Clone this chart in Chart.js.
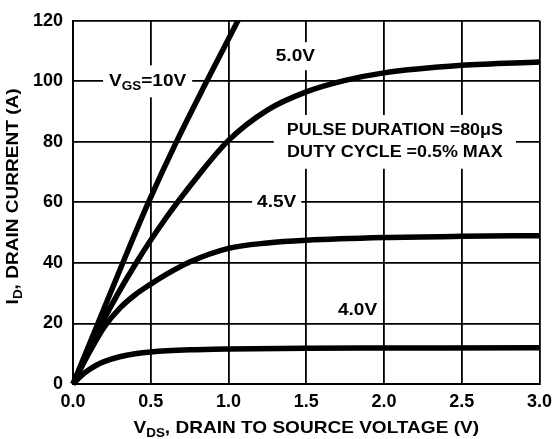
<!DOCTYPE html>
<html>
<head>
<meta charset="utf-8">
<script src="https://cdn.jsdelivr.net/npm/chart.js@4.4.1/dist/chart.umd.min.js"></script>
<style>
  html, body { margin: 0; padding: 0; background: #fff; }
  canvas { display: block; }
</style>
</head>
<body>
<canvas id="c" width="559" height="439"></canvas>
<script>
// V_DS (V) and I_D (A), one pair of arrays per V_GS
const vds10 = [0, 0.16, 0.32, 0.485, 0.665, 0.86, 1.06, 1.1];
const id10  = [0, 20, 40, 60, 80, 100, 120, 124];

const vds50 = [0, 0.2, 0.4, 0.6, 0.8, 1.0, 1.25, 1.5, 1.75, 2.0, 2.5, 3.0];
const id50  = [0, 21.5, 39.5, 55, 68.5, 80.5, 90.5, 96.5, 100.3, 102.8, 105.3, 106.4];

const vds45 = [0, 0.1, 0.2, 0.3, 0.4, 0.5, 0.6, 0.75, 1.0, 1.25, 1.5, 2.0, 2.5, 3.0];
const id45  = [0, 10, 18.8, 25, 29.5, 33, 36.2, 40.3, 44.8, 46.6, 47.5, 48.4, 48.8, 49];

const vds40 = [0, 0.05, 0.1, 0.15, 0.2, 0.3, 0.4, 0.5, 0.75, 1.0, 1.5, 2.0, 3.0];
const id40  = [0, 2.6, 4.6, 6.2, 7.4, 9.0, 10.0, 10.6, 11.3, 11.6, 11.85, 11.9, 11.95];

const curveNames = ["VGS=10V", "5.0V", "4.5V", "4.0V"];
const xTitle = [["V", ""], ["DS", "sub"], [", DRAIN TO SOURCE VOLTAGE (V)", ""]];
const yTitle = [["I", ""], ["D", "sub"], [", DRAIN CURRENT (A)", ""]];
const noteLines = ["PULSE DURATION =80\u03bcS", "DUTY CYCLE =0.5% MAX"];

function pts(xs, ys) {
  return xs.map(function (x, i) { return { x: x, y: ys[i] }; });
}

const FONT = '"Liberation Sans", Arial, sans-serif';
const SX = 1.12; // the original lettering is a little wider than Arial

// text made of normal / subscript parts, centred on cx,cy
function richWidth(ctx, parts, size) {
  var w = 0;
  parts.forEach(function (p) {
    ctx.font = "bold " + (p[1] ? Math.round(size * 0.72) : size) + "px " + FONT;
    w += ctx.measureText(p[0]).width;
  });
  return w * SX;
}
function drawRich(ctx, parts, cx, cy, size) {
  var w = richWidth(ctx, parts, size) / SX;
  ctx.save();
  ctx.translate(cx, cy);
  ctx.scale(SX, 1);
  var x = -w / 2;
  ctx.textBaseline = "middle";
  ctx.textAlign = "left";
  parts.forEach(function (p) {
    var s = p[1] ? Math.round(size * 0.72) : size;
    ctx.font = "bold " + s + "px " + FONT;
    ctx.fillText(p[0], x, p[1] ? size * 0.32 : 0);
    x += ctx.measureText(p[0]).width;
  });
  ctx.restore();
}

// curve labels with white boxes that break the grid lines
const labelPlugin = {
  id: "labels",
  beforeDatasetsDraw: function (chart) {
    var ctx = chart.ctx, xs = chart.scales.x, ys = chart.scales.y;
    var size = 17;
    var labels = [
      { parts: [["V", ""], ["GS", "sub"], ["=10V", ""]], x: 0.48, y: 100, px: 6, py: 8 },
      { parts: [[curveNames[1], ""]], x: 1.43, y: 108.3, px: 3, py: 6 },
      { parts: [[curveNames[2], ""]], x: 1.31, y: 60, px: 5, py: 5 },
      { parts: [[curveNames[3], ""]], x: 1.83, y: 24.4, px: 4, py: 2 }
    ];
    ctx.save();
    labels.forEach(function (l) {
      var cx = xs.getPixelForValue(l.x), cy = ys.getPixelForValue(l.y);
      var w = richWidth(ctx, l.parts, size);
      ctx.fillStyle = "#fff";
      ctx.fillRect(cx - w / 2 - l.px, cy - 8 - l.py, w + 2 * l.px, 16 + 2 * l.py);
      ctx.fillStyle = "#000";
      drawRich(ctx, l.parts, cx, cy, size);
    });
    // pulse note
    var nx = xs.getPixelForValue(2.07);
    var y1 = ys.getPixelForValue(83.6), y2 = ys.getPixelForValue(76.4);
    var nw = Math.max(richWidth(ctx, [[noteLines[0], ""]], 16), richWidth(ctx, [[noteLines[1], ""]], 16));
    ctx.fillStyle = "#fff";
    ctx.fillRect(nx - nw / 2 - 13, y1 - 16, nw + 26, (y2 - y1) + 32);
    ctx.fillStyle = "#000";
    drawRich(ctx, [[noteLines[0], ""]], nx, y1, 16);
    drawRich(ctx, [[noteLines[1], ""]], nx, y2, 16);
    ctx.restore();
  },
  afterDraw: function (chart) {
    var ctx = chart.ctx, a = chart.chartArea;
    ctx.save();
    ctx.fillStyle = "#000";
    drawRich(ctx, xTitle, (a.left + a.right) / 2, 428, 17);
    ctx.translate(13, (a.top + a.bottom) / 2 - 6);
    ctx.rotate(-Math.PI / 2);
    drawRich(ctx, yTitle, 0, 0, 17);
    ctx.restore();
  }
};

function curve(label, xs, ys) {
  return {
    label: label,
    data: pts(xs, ys),
    borderColor: "#000",
    borderWidth: 5.5,
    pointRadius: 0,
    fill: false,
    showLine: true,
    cubicInterpolationMode: "monotone",
    clip: { left: 4, top: 0, right: 4, bottom: 4 }
  };
}

new Chart(document.getElementById("c"), {
  type: "scatter",
  data: {
    datasets: [
      curve(curveNames[0], vds10, id10),
      curve(curveNames[1], vds50, id50),
      curve(curveNames[2], vds45, id45),
      curve(curveNames[3], vds40, id40)
    ]
  },
  options: {
    responsive: false,
    animation: false,
    layout: { padding: { top: 15, right: 15, left: 0, bottom: 0 } },
    plugins: { legend: { display: false }, tooltip: { enabled: false } },
    scales: {
      x: {
        type: "linear",
        min: 0, max: 3,
        ticks: {
          stepSize: 0.5,
          color: "#000",
          padding: 7,
          font: { family: FONT, size: 18, weight: "bold" },
          callback: function (v) { return v.toFixed(1); }
        },
        grid: { color: "#000", lineWidth: 1.8, drawTicks: false },
        border: { color: "#000", width: 2 },
        afterFit: function (s) { s.height = 55; }
      },
      y: {
        min: 0, max: 120,
        ticks: {
          stepSize: 20,
          color: "#000",
          padding: 10,
          font: { family: FONT, size: 18, weight: "bold" }
        },
        grid: { color: "#000", lineWidth: 1.8, drawTicks: false },
        border: { color: "#000", width: 2 },
        afterFit: function (s) { s.width = 73; }
      }
    }
  },
  plugins: [labelPlugin]
});
</script>
</body>
</html>
